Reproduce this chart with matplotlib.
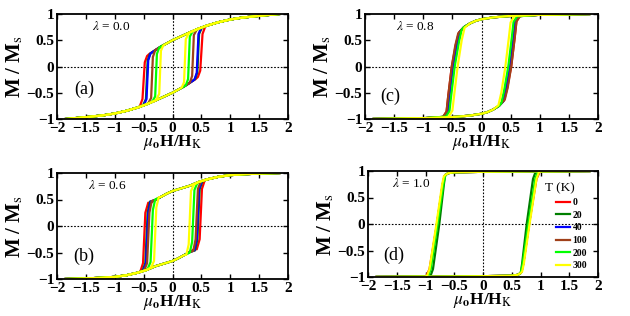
import numpy as np
import matplotlib
matplotlib.use('Agg')
import matplotlib.pyplot as plt
from matplotlib.lines import Line2D

plt.rcParams['font.family'] = ['Liberation Serif', 'DejaVu Serif']
plt.rcParams['mathtext.fontset'] = 'stix'
plt.rcParams['axes.unicode_minus'] = True

temps = ['0', '20', '40', '100', '200', '300']
colors = ['#ff0000', '#007f00', '#0000ff', '#a0401a', '#00ff00', '#ffff00']

xticks = [-2, -1.5, -1, -0.5, 0, 0.5, 1, 1.5, 2]
xticklabels = ['\u22122', '\u22121.5', '\u22121', '\u22120.5', '0', '0.5', '1', '1.5', '2']
yticks = [-1, -0.5, 0, 0.5, 1]
yticklabels = ['\u22121', '\u22120.5', '0', '0.5', '1']

# ---- panel (a), lambda = 0.0 : upper envelope of the descending branch
env_a_H = [1.85, 1.5, 1.2, 1.0, 0.8, 0.6, 0.45, 0.3, 0.15, 0.0, -0.1, -0.2, -0.3, -0.4, -0.5]
env_a_M = [1.0, 0.965, 0.93, 0.895, 0.845, 0.78, 0.72, 0.65, 0.575, 0.50, 0.44, 0.38, 0.31, 0.24, 0.17]
jump_a_H = [[-0.44, -0.48, -0.52, -0.57],
            [-0.39, -0.43, -0.46, -0.51],
            [-0.38, -0.42, -0.45, -0.50],
            [-0.30, -0.34, -0.37, -0.42],
            [-0.23, -0.27, -0.30, -0.35],
            [-0.16, -0.20, -0.23, -0.28]]
jump_a_M = [[0.20, 0.08, -0.62, -0.77],
            [0.24, 0.11, -0.62, -0.74],
            [0.25, 0.12, -0.62, -0.74],
            [0.31, 0.18, -0.60, -0.70],
            [0.36, 0.24, -0.57, -0.67],
            [0.40, 0.30, -0.52, -0.63]]

# ---- panel (b), lambda = 0.6
env_b_H = [1.85, 1.5, 1.2, 1.0, 0.8, 0.6, 0.45, 0.3, 0.15, 0.0, -0.1, -0.2, -0.3, -0.4, -0.5]
env_b_M = [1.0, 0.99, 0.975, 0.96, 0.93, 0.88, 0.83, 0.76, 0.71, 0.66, 0.61, 0.55, 0.49, 0.42, 0.35]
jump_b_H = [[-0.42, -0.47, -0.51, -0.56],
            [-0.39, -0.43, -0.47, -0.52],
            [-0.38, -0.42, -0.46, -0.51],
            [-0.36, -0.40, -0.44, -0.49],
            [-0.30, -0.34, -0.38, -0.43],
            [-0.24, -0.28, -0.32, -0.37]]
jump_b_M = [[0.44, 0.25, -0.70, -0.87],
            [0.46, 0.25, -0.70, -0.85],
            [0.46, 0.25, -0.70, -0.85],
            [0.47, 0.25, -0.70, -0.84],
            [0.50, 0.30, -0.68, -0.81],
            [0.54, 0.35, -0.66, -0.78]]

# ---- panel (c), lambda = 0.8
env_c_H = [1.85, 1.5, 1.0, 0.6, 0.4, 0.2, 0.0, -0.1, -0.2, -0.3, -0.4]
env_c_M = [1.0, 0.995, 0.985, 0.97, 0.955, 0.935, 0.90, 0.87, 0.82, 0.75, 0.63]
jump_c_H = [[-0.39, -0.44, -0.51, -0.57, -0.60, -0.66],
            [-0.38, -0.43, -0.50, -0.56, -0.59, -0.65],
            [-0.37, -0.42, -0.49, -0.55, -0.58, -0.64],
            [-0.40, -0.45, -0.51, -0.57, -0.60, -0.66],
            [-0.34, -0.39, -0.46, -0.52, -0.55, -0.61],
            [-0.29, -0.34, -0.41, -0.47, -0.50, -0.56]]
jump_c_M = [[0.64, 0.42, 0.0, -0.55, -0.86, -0.96],
            [0.65, 0.42, 0.0, -0.55, -0.86, -0.96],
            [0.67, 0.43, 0.0, -0.55, -0.86, -0.96],
            [0.63, 0.40, 0.0, -0.55, -0.86, -0.96],
            [0.70, 0.45, 0.0, -0.55, -0.85, -0.955],
            [0.74, 0.50, 0.0, -0.55, -0.84, -0.95]]

# ---- panel (d), lambda = 1.0
env_d_H = [1.85, 1.0, 0.5, 0.0, -0.5, -0.6, -0.65]
env_d_M = [1.0, 0.995, 0.99, 0.985, 0.975, 0.96, 0.93]
jump_d_H = [[-0.67, -0.70, -0.80, -0.93, -0.98],
            [-0.66, -0.68, -0.76, -0.87, -0.91],
            [-0.67, -0.70, -0.80, -0.92, -0.96],
            [-0.67, -0.70, -0.80, -0.92, -0.96],
            [-0.66, -0.69, -0.79, -0.91, -0.95],
            [-0.68, -0.71, -0.81, -0.93, -0.97]]
jump_d_M = [[0.90, 0.75, 0.0, -0.85, -0.97],
            [0.90, 0.75, 0.0, -0.85, -0.97],
            [0.90, 0.75, 0.0, -0.85, -0.97],
            [0.90, 0.75, 0.0, -0.85, -0.97],
            [0.90, 0.75, 0.0, -0.85, -0.97],
            [0.90, 0.75, 0.0, -0.85, -0.97]]

panels = [
    ('(a)', r'$\lambda$ = 0.0', env_a_H, env_a_M, jump_a_H, jump_a_M,
     [57, 14, 288, 119], (-1.40, 0.77), (-1.70, -0.44)),
    ('(b)', r'$\lambda$ = 0.6', env_b_H, env_b_M, jump_b_H, jump_b_M,
     [57, 173, 288, 279], (-1.47, 0.76), (-1.72, -0.57)),
    ('(c)', r'$\lambda$ = 0.8', env_c_H, env_c_M, jump_c_H, jump_c_M,
     [365, 14, 598, 119], (-1.46, 0.77), (-1.74, -0.57)),
    ('(d)', r'$\lambda$ = 1.0', env_d_H, env_d_M, jump_d_H, jump_d_M,
     [368, 171, 598, 277], (-1.59, 0.76), (-1.74, -0.60)),
]

W, H = 630, 316
fig = plt.figure(figsize=(6.3, 3.16), dpi=100)


def branch(envH, envM, jH, jM):
    hs, ms = [], []
    for h, m in zip(envH, envM):
        if h > jH[0]:
            hs.append(h); ms.append(m)
    hs += list(jH); ms += list(jM)
    for h, m in zip(envH[::-1], envM[::-1]):
        if -h < jH[-1]:
            hs.append(-h); ms.append(-m)
    return np.array(hs), np.array(ms)


for name, lam, eH, eM, jHs, jMs, box, lampos, namepos in panels:
    l, t, r, b = box
    ax = fig.add_axes([l / W, 1 - b / H, (r - l) / W, (b - t) / H])
    ax.axhline(0, color='k', ls=(0, (1.5, 1.5)), lw=0.8, zorder=1)
    ax.axvline(0, color='k', ls=(0, (1.5, 1.5)), lw=0.8, zorder=1)
    for jH, jM, c in zip(jHs, jMs, colors):
        hh, mm = branch(eH, eM, jH, jM)
        ax.plot(hh, mm, color=c, lw=1.6, zorder=2, solid_joinstyle='round')
        ax.plot(-hh, -mm, color=c, lw=1.6, zorder=2, solid_joinstyle='round')
    ax.set_xlim(-2, 2)
    ax.set_ylim(-1, 1)
    ax.set_xticks(xticks)
    ax.set_xticklabels(xticklabels, fontsize=11, fontweight='bold')
    ax.set_yticks(yticks)
    ax.set_yticklabels(yticklabels, fontsize=11, fontweight='bold')
    ax.tick_params(direction='in', top=True, right=True, length=3.5, width=1.0, pad=2)
    for s in ax.spines.values():
        s.set_linewidth(1.3)
    ax.set_xlabel(r'$\mu_{\mathbf{o}}$H/H$_{\mathrm{K}}$', fontsize=12.5, fontweight='bold', labelpad=-1)
    ax.set_ylabel(r'M / M$_{\mathrm{s}}$', fontsize=15, fontweight='bold', labelpad=1)
    ax.text(lampos[0], lampos[1], lam, fontsize=9.5, va='center', ha='left')
    ax.text(namepos[0], namepos[1], name, fontsize=13, va='center', ha='left')
    if name == '(d)':
        handles = [Line2D([], [], color=c, lw=1.6) for c in colors]
        ax.legend(handles, temps, loc='upper left', bbox_to_anchor=(0.815, 0.755),
                  frameon=False, prop={'size': 7, 'weight': 'bold'},
                  handlelength=1.35, handletextpad=0.3, labelspacing=0.38,
                  borderpad=0.1, borderaxespad=0)
        ax.text((545 - l) / (r - l), (b - 188) / (b - t), 'T (K)', fontsize=9.5,
                transform=ax.transAxes, ha='left', va='center')

fig.savefig('out.png', dpi=100)
